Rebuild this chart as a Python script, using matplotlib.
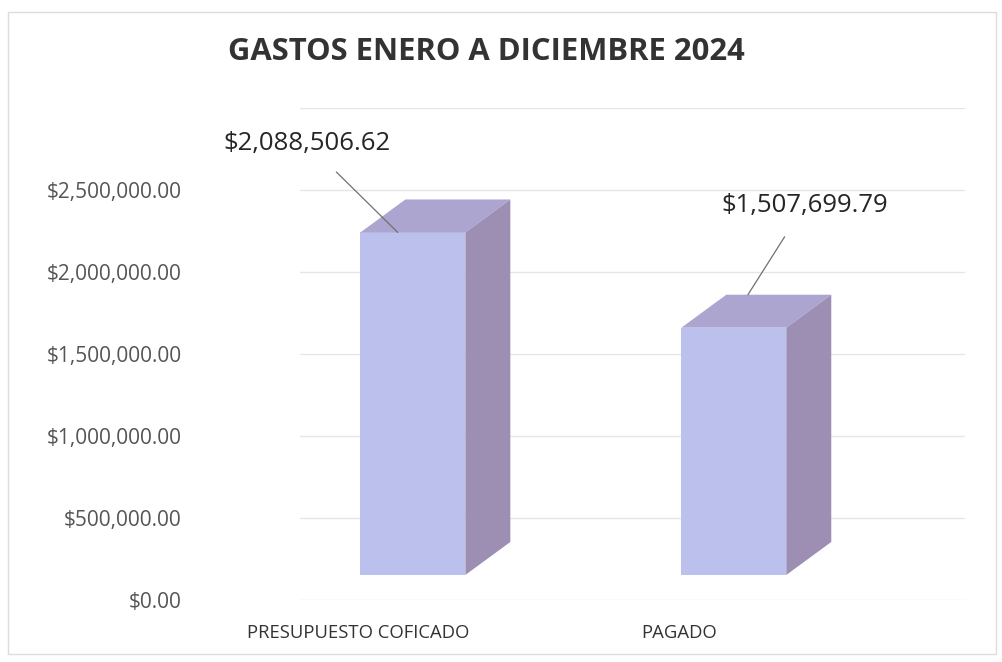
import matplotlib.pyplot as plt
from matplotlib.patches import Polygon, Rectangle
from matplotlib.transforms import ScaledTranslation
import numpy as np

categorias = ['PRESUPUESTO COFICADO', 'PAGADO']
montos = [2088506.62, 1507699.79]
etiquetas = ['$2,088,506.62', '$1,507,699.79']
ticks_y = [0, 500000, 1000000, 1500000, 2000000, 2500000]
grid_y = [0, 500000, 1000000, 1500000, 2000000, 2500000, 3000000]

plt.rcParams['font.family'] = ['Open Sans', 'DejaVu Sans']

fig = plt.figure(figsize=(10.03, 6.62), dpi=100)
ax = fig.add_axes([0.299, 0.0937, 0.663, 0.7432])
ax.set_xlim(-0.352, 1.72)
ax.set_ylim(0, 3000000)

# lineas de la cuadricula, muy tenues (pared del fondo)
for g in grid_y:
    ax.axhline(g, color='#e6e6e6', lw=1, zorder=0)

# barras en "3D": cara frontal + tapa + lado
x = np.arange(len(categorias))
ancho = 0.327
prof_x = 45 / 321          # profundidad en unidades de datos
prof_y = 33 / 164 * 1e6
subir = ax.transData + ScaledTranslation(0, 25 / 100, fig.dpi_scale_trans)

c_frente = '#bbc1ec'
c_tapa = '#aba5d0'
c_lado = '#9d8fb3'

for xi, v in zip(x, montos):
    x0, x1 = xi - ancho / 2, xi + ancho / 2
    ax.add_patch(Rectangle((x0, 0), ancho, v, facecolor=c_frente, edgecolor='none',
                           transform=subir, zorder=3))
    ax.add_patch(Polygon([(x0, v), (x1, v), (x1 + prof_x, v + prof_y), (x0 + prof_x, v + prof_y)],
                         closed=True, facecolor=c_tapa, edgecolor='none', transform=subir, zorder=3))
    ax.add_patch(Polygon([(x1, 0), (x1 + prof_x, prof_y), (x1 + prof_x, v + prof_y), (x1, v)],
                         closed=True, facecolor=c_lado, edgecolor='none', transform=subir, zorder=3))

# etiquetas de datos con linea guia
pos_etq = [(-0.33, 2786000), (1.221, 2408000)]
punta = [(-0.047, 0), (1.044, prof_y)]
for v, t, (tx, ty), (px, py) in zip(montos, etiquetas, pos_etq, punta):
    ax.annotate(t, xy=(px, v + py), xycoords=subir,
                xytext=(tx, ty), textcoords='data', ha='center', va='center',
                fontsize=18.5, color='#262626', zorder=5, annotation_clip=False,
                arrowprops=dict(arrowstyle='-', color='#707070', lw=0.9,
                                shrinkA=14, shrinkB=0))

ax.set_yticks(ticks_y)
ax.set_yticklabels(['${:,.2f}'.format(t) for t in ticks_y])
ax.tick_params(axis='y', length=0, pad=85, labelsize=15, labelcolor='#555555')

ax.set_xticks(x - 55 / 321)
ax.set_xticklabels(categorias)
ax.tick_params(axis='x', length=0, pad=17, labelsize=13.3, labelcolor='#333333')

for s in ax.spines.values():
    s.set_visible(False)
ax.patch.set_alpha(0)

fig.text(0.4845, 0.921, 'GASTOS ENERO A DICIEMBRE 2024', ha='center', va='center',
         fontsize=22.3, fontweight='bold', color='#333333')

# borde del area del grafico
fig.patches.append(Rectangle((0.008, 0.012), 0.985, 0.97, transform=fig.transFigure,
                             fill=False, edgecolor='#dddddd', lw=1))

fig.savefig('out.png', dpi=100)
